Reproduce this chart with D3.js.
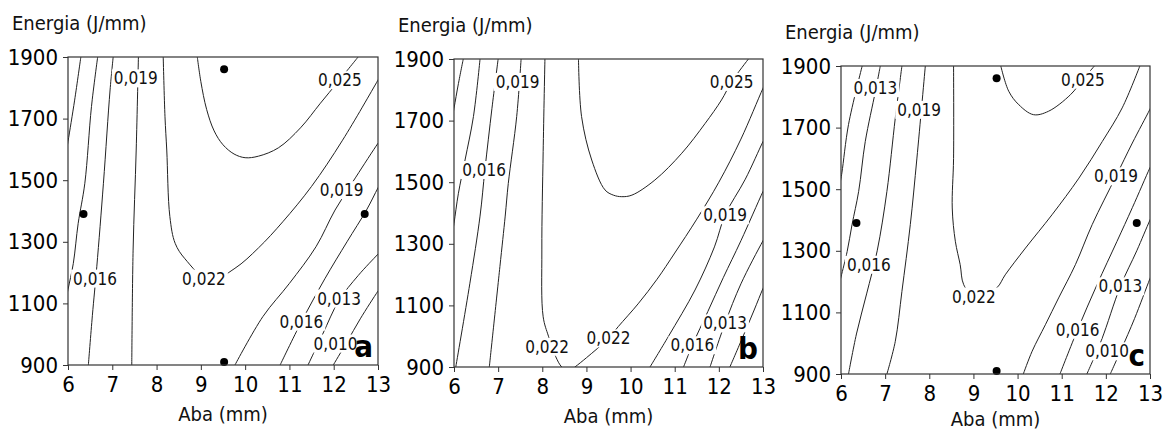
<!DOCTYPE html>
<html>
<head>
<meta charset="utf-8">
<title>Contornos energia x aba</title>
<script src="https://cdn.jsdelivr.net/npm/d3@7"></script>
<style>
  body { margin: 0; background: #fff; }
  svg { font-family: "DejaVu Sans Condensed", "Liberation Sans", sans-serif; }
</style>
</head>
<body>
<svg id="chart" width="1169" height="433"></svg>
<script>
// axis ticks
const abaTicks = [6, 7, 8, 9, 10, 11, 12, 13];
const energiaTicks = [900, 1100, 1300, 1500, 1700, 1900];

// contour lines: [aba (mm), energia (J/mm)]
const contoursA = [
  [[6.29,1900],[6.15,1760],[6.0,1625],[5.95,1580]],
  [[6.67,1900],[6.53,1739],[6.38,1490],[6.23,1360],[6.12,1230],[6.0,1145],[5.95,1110]],
  [[7.02,1900],[6.95,1793],[6.80,1490],[6.65,1219],[6.55,1060],[6.46,900]],
  [[7.59,1900],[7.54,1598],[7.47,1273],[7.44,900]],
  [[8.15,1900],[8.19,1706],[8.23,1598],[8.30,1382],[8.42,1295],[8.64,1245],[9.2,1175],[9.77,1214],[10.3,1280],[10.85,1365],[11.5,1480],[12.2,1630],[13.0,1825],[13.1,1850]],
  [[8.92,1900],[9.0,1820],[9.13,1730],[9.3,1660],[9.5,1615],[9.75,1585],[10.0,1573],[10.3,1578],[10.75,1605],[11.25,1670],[11.7,1750],[12.1,1820],[12.55,1900]],
  [[9.77,900],[10.4,1057],[11.0,1165],[11.6,1284],[12.03,1403],[12.5,1510],[13.0,1620],[13.1,1640]],
  [[10.79,900],[11.27,1040],[11.8,1180],[12.3,1300],[12.74,1403],[13.0,1475],[13.1,1500]],
  [[11.42,900],[11.75,1000],[12.12,1110],[12.55,1190],[13.0,1260],[13.1,1275]],
  [[11.99,900],[12.3,975],[12.6,1050],[13.0,1140],[13.1,1160]]
];
const contoursB = [
  [[6.21,1900],[6.1,1820],[6.0,1740],[5.95,1700]],
  [[6.59,1900],[6.44,1713],[6.25,1572],[6.10,1464],[6.0,1366],[5.95,1320]],
  [[7.0,1900],[6.86,1740],[6.7,1540],[6.59,1390],[6.36,1172],[6.04,900]],
  [[7.52,1900],[7.42,1713],[7.23,1496],[7.16,1390],[7.04,1226],[6.80,900]],
  [[8.06,1900],[8.02,1600],[7.99,1280],[8.02,1063],[8.14,1000],[8.3,935],[8.44,900],[8.6,885],[8.74,900],[9.0,930],[9.5,993],[9.72,1031],[10.17,1105],[10.6,1185],[11.0,1270],[11.5,1380],[12.0,1500],[12.5,1640],[13.0,1805],[13.1,1835]],
  [[8.82,1900],[8.89,1713],[9.12,1572],[9.42,1475],[9.61,1458],[9.8,1453],[10.03,1458],[10.55,1507],[11.16,1594],[11.69,1691],[12.06,1767],[12.29,1826],[12.67,1900]],
  [[10.44,900],[10.86,1000],[11.46,1150],[11.9,1290],[12.14,1393],[12.6,1510],[13.0,1632],[13.1,1660]],
  [[11.2,900],[11.4,971],[11.75,1080],[12.1,1190],[12.5,1310],[13.0,1470],[13.1,1500]],
  [[11.8,900],[12.14,1042],[12.5,1170],[13.0,1310],[13.1,1335]],
  [[12.25,900],[12.55,1000],[12.8,1085],[13.0,1155],[13.1,1185]]
];
const contoursC = [
  [[6.48,1900],[6.17,1710],[6.02,1553],[5.98,1520]],
  [[6.89,1900],[6.78,1818],[6.55,1655],[6.40,1493],[6.25,1385],[6.14,1298],[6.0,1215],[5.95,1185]],
  [[7.38,1900],[7.23,1731],[7.04,1493],[6.82,1300],[6.58,1160],[6.35,1030],[6.17,900]],
  [[7.91,1900],[7.72,1601],[7.57,1385],[7.38,1168],[7.23,1006],[7.04,900]],
  [[8.55,1900],[8.55,1600],[8.52,1439],[8.59,1331],[8.70,1255],[8.78,1190],[9.05,1145],[9.53,1180],[9.72,1222],[10.18,1309],[10.78,1417],[11.39,1536],[11.92,1655],[12.37,1764],[12.77,1900]],
  [[9.62,1900],[9.80,1818],[10.03,1774],[10.36,1742],[10.70,1753],[11.20,1807],[11.48,1856],[11.74,1900]],
  [[10.13,900],[10.33,974],[10.63,1060],[10.93,1147],[11.31,1255],[11.69,1385],[12.23,1542],[12.6,1650],[13.0,1760],[13.1,1790]],
  [[10.96,900],[11.36,1044],[11.8,1190],[12.25,1330],[12.6,1440],[13.0,1570],[13.1,1600]],
  [[11.57,900],[11.9,1010],[12.33,1185],[12.7,1300],[13.0,1400],[13.1,1430]],
  [[12.1,900],[12.35,980],[12.65,1080],[13.0,1210],[13.1,1245]]
];

// contour labels: [text, aba, energia]
const labelsA = [["0,019",7.53,1831],["0,016",6.61,1181],["0,022",9.07,1181],["0,025",12.14,1825],
  ["0,019",12.18,1468],["0,013",12.12,1116],["0,016",11.27,1041],["0,010",12.04,970]];
const labelsB = [["0,019",7.44,1826],["0,016",6.68,1540],["0,022",8.11,966],["0,022",9.50,993],
  ["0,025",12.29,1826],["0,019",12.14,1393],["0,016",11.40,971],["0,013",12.14,1042]];
const labelsC = [["0,013",6.78,1829],["0,019",7.77,1758],["0,016",6.63,1255],["0,022",9.01,1152],
  ["0,025",11.48,1856],["0,019",12.23,1542],["0,013",12.33,1185],["0,016",11.36,1044],["0,010",12.03,974]];

// design points
const pointsA = [[9.525,1860],[6.35,1390],[12.7,1390],[9.525,910]];
const pointsB = [];
const pointsC = [[9.525,1860],[6.35,1390],[12.7,1390],[9.525,910]];

const panels = [
  { x0: 68,  x1: 378,  y0: 57, y1: 365, contours: contoursA, labels: labelsA, points: pointsA, tag: "a" },
  { x0: 454, x1: 763,  y0: 59, y1: 367, contours: contoursB, labels: labelsB, points: pointsB, tag: "b" },
  { x0: 841, x1: 1150, y0: 66, y1: 374, contours: contoursC, labels: labelsC, points: pointsC, tag: "c" }
];

const svg = d3.select("#chart");
const defs = svg.append("defs");

panels.forEach(function(p, i) {
  const x = d3.scaleLinear().domain([6, 13]).range([p.x0, p.x1]);
  const y = d3.scaleLinear().domain([900, 1900]).range([p.y1, p.y0]);
  const g = svg.append("g");

  defs.append("clipPath").attr("id", "clip" + i)
    .append("rect")
      .attr("x", p.x0).attr("y", p.y0)
      .attr("width", p.x1 - p.x0).attr("height", p.y1 - p.y0);

  const line = d3.line()
    .x(function(d) { return x(d[0]); })
    .y(function(d) { return y(d[1]); })
    .curve(d3.curveCatmullRom.alpha(0.5));

  g.append("g")
      .attr("clip-path", "url(#clip" + i + ")")
    .selectAll("path")
      .data(p.contours)
    .enter().append("path")
      .attr("d", line)
      .attr("fill", "none")
      .attr("stroke", "#222")
      .attr("stroke-width", 1);

  // labels break the lines
  const lab = g.selectAll(".lab")
      .data(p.labels)
    .enter().append("g")
      .attr("class", "lab");
  const txt = lab.append("text")
      .attr("x", function(d) { return x(d[1]); })
      .attr("y", function(d) { return y(d[2]); })
      .attr("dy", "0.36em")
      .attr("text-anchor", "middle")
      .attr("font-size", 17)
      .attr("fill", "#111")
      .text(function(d) { return d[0]; });
  txt.each(function() {
    const b = this.getBBox();
    d3.select(this.parentNode).insert("rect", "text")
      .attr("x", b.x - 2).attr("y", b.y + 1)
      .attr("width", b.width + 4).attr("height", b.height - 2)
      .attr("fill", "#fff");
  });

  g.selectAll("circle")
      .data(p.points)
    .enter().append("circle")
      .attr("cx", function(d) { return x(d[0]); })
      .attr("cy", function(d) { return y(d[1]); })
      .attr("r", 4)
      .attr("fill", "#000");

  // frame
  g.append("rect")
      .attr("x", p.x0).attr("y", p.y0)
      .attr("width", p.x1 - p.x0).attr("height", p.y1 - p.y0)
      .attr("fill", "none")
      .attr("stroke", "#333")
      .attr("stroke-width", 1.2);

  const xAxis = g.append("g")
      .attr("transform", "translate(0," + p.y1 + ")")
      .call(d3.axisBottom(x).tickValues(abaTicks).tickSize(5).tickPadding(6).tickFormat(d3.format("d")));
  const yAxis = g.append("g")
      .attr("transform", "translate(" + p.x0 + ",0)")
      .call(d3.axisLeft(y).tickValues(energiaTicks).tickSize(5).tickPadding(5).tickFormat(d3.format("d")));
  [xAxis, yAxis].forEach(function(a) {
    a.attr("font-family", null);
    a.select(".domain").remove();
    a.selectAll("line").attr("stroke", "#333");
    a.selectAll("text").attr("font-size", 22).attr("fill", "#000");
  });

  g.append("text")
      .attr("x", p.x0 - 56).attr("y", p.y0 - 27)
      .attr("font-size", 20)
      .attr("fill", "#111")
      .text("Energia (J/mm)");
  g.append("text")
      .attr("x", (p.x0 + p.x1) / 2).attr("y", Math.min(p.y1 + 56, 426))
      .attr("text-anchor", "middle")
      .attr("font-size", 20)
      .attr("fill", "#111")
      .text("Aba (mm)");
  g.append("text")
      .attr("x", p.x1 - 5).attr("y", p.y1 - 8)
      .attr("text-anchor", "end")
      .attr("font-size", 31)
      .attr("font-weight", "bold")
      .attr("fill", "#000")
      .text(p.tag);
});
</script>
</body>
</html>
